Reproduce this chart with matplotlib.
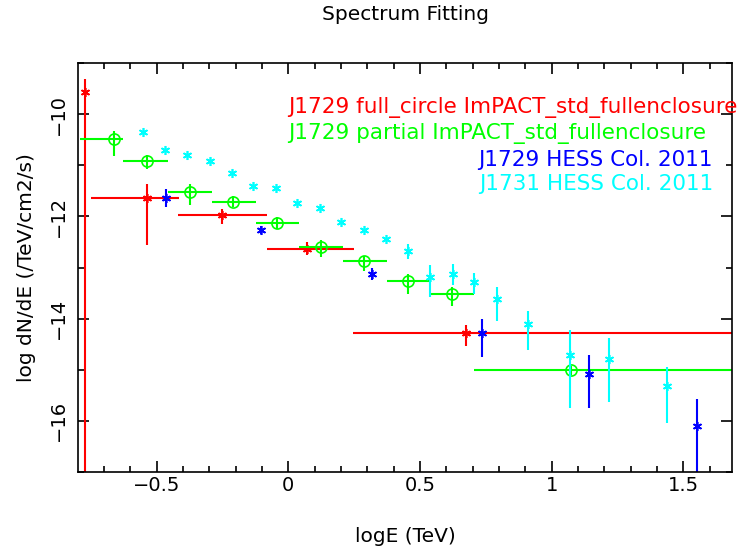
import numpy as np
import matplotlib.pyplot as plt

# J1729 full_circle ImPACT_std_fullenclosure (red)
red_x = [-0.772, -0.535, -0.253, 0.072, 0.674]
red_y = [-9.56, -11.63, -11.97, -12.63, -14.29]
red_xlo = [-0.772, -0.750, -0.418, -0.082, 0.247]
red_xhi = [-0.772, -0.415, -0.082, 0.251, 1.75]
red_ylo = [-18.0, -12.55, -12.15, -12.75, -14.54]
red_yhi = [-9.31, -11.37, -11.86, -12.51, -14.13]

# J1729 partial ImPACT_std_fullenclosure (green)
green_x = [-0.662, -0.538, -0.373, -0.211, -0.044, 0.123, 0.287, 0.453, 0.620, 1.072]
green_y = [-10.49, -10.92, -11.53, -11.71, -12.13, -12.59, -12.88, -13.26, -13.52, -15.01]
green_xlo = [-0.790, -0.627, -0.456, -0.291, -0.124, 0.042, 0.207, 0.374, 0.538, 0.706]
green_xhi = [-0.627, -0.456, -0.291, -0.124, 0.042, 0.209, 0.376, 0.538, 0.706, 1.75]
green_ylo = [-10.81, -11.07, -11.77, -11.82, -12.25, -12.80, -13.06, -13.52, -13.75, -15.10]
green_yhi = [-10.32, -10.80, -11.37, -11.59, -12.02, -12.46, -12.77, -13.12, -13.39, -14.92]

# J1729 HESS Col. 2011 (blue)
blue_x = [-0.464, -0.103, 0.317, 0.734, 1.142, 1.552]
blue_y = [-11.63, -12.26, -13.13, -14.29, -15.08, -16.11]
blue_ylo = [-11.81, -12.34, -13.24, -14.76, -15.75, -17.5]
blue_yhi = [-11.46, -12.18, -13.01, -14.01, -14.71, -15.57]

# J1731 HESS Col. 2011 (cyan)
cyan_x = [-0.553, -0.467, -0.385, -0.297, -0.214, -0.133, -0.048, 0.034, 0.120,
          0.201, 0.286, 0.371, 0.456, 0.538, 0.624, 0.706, 0.791, 0.910, 1.070,
          1.219, 1.437]
cyan_y = [-10.35, -10.69, -10.80, -10.92, -11.15, -11.41, -11.44, -11.74, -11.84,
          -12.10, -12.27, -12.44, -12.68, -13.19, -13.12, -13.29, -13.62, -14.11,
          -14.71, -14.80, -15.33]
cyan_ylo = [-10.35, -10.69, -10.80, -10.92, -11.15, -11.41, -11.44, -11.74, -11.84,
            -12.10, -12.27, -12.44, -12.83, -13.57, -13.34, -13.52, -14.05, -14.61,
            -15.75, -15.64, -16.05]
cyan_yhi = [-10.35, -10.69, -10.80, -10.92, -11.15, -11.41, -11.44, -11.74, -11.84,
            -12.10, -12.27, -12.44, -12.54, -12.96, -12.93, -13.10, -13.39, -13.85,
            -14.22, -14.38, -14.94]

labels = ["J1729 full_circle ImPACT_std_fullenclosure",
          "J1729 partial ImPACT_std_fullenclosure",
          "J1729 HESS Col. 2011",
          "J1731 HESS Col. 2011"]

W, H = 739, 552
fig = plt.figure(figsize=(W / 100, H / 100), dpi=100)
ax = fig.add_axes([77.7 / W, 1 - 471.7 / H, (732.3 - 77.7) / W, (471.7 - 63.3) / H])

star = (6, 2, 0)


def errs(c, lo, hi):
    c = np.asarray(c)
    return [c - np.asarray(lo), np.asarray(hi) - c]


ax.errorbar(red_x, red_y, xerr=errs(red_x, red_xlo, red_xhi), yerr=errs(red_y, red_ylo, red_yhi),
            fmt='none', ecolor='#ff0000', elinewidth=1.5, capsize=0)
ax.plot(red_x, red_y, ls='none', marker=star, color='#ff0000', ms=6.5, mew=1.2)

ax.errorbar(green_x, green_y, xerr=errs(green_x, green_xlo, green_xhi),
            yerr=errs(green_y, green_ylo, green_yhi),
            fmt='none', ecolor='#00ff00', elinewidth=1.5, capsize=0)
ax.plot(green_x, green_y, ls='none', marker='o', mfc='none', mec='#00ff00', ms=8, mew=1.2)

ax.errorbar(cyan_x, cyan_y, yerr=errs(cyan_y, cyan_ylo, cyan_yhi),
            fmt='none', ecolor='#00ffff', elinewidth=1.5, capsize=0)
ax.plot(cyan_x, cyan_y, ls='none', marker=star, color='#00ffff', ms=6.5, mew=1.2)

ax.errorbar(blue_x, blue_y, yerr=errs(blue_y, blue_ylo, blue_yhi),
            fmt='none', ecolor='#0000ff', elinewidth=1.5, capsize=0)
ax.plot(blue_x, blue_y, ls='none', marker=star, color='#0000ff', ms=6.5, mew=1.2)

ax.set_xlim(-0.8, 1.686)
ax.set_ylim(-17, -9)
ax.set_xticks([-0.5, 0, 0.5, 1, 1.5])
ax.set_xticklabels(['\u22120.5', '0', '0.5', '1', '1.5'])
ax.set_xticks(np.arange(-0.7, 1.7, 0.1), minor=True)
ax.set_yticks([-16, -14, -12, -10])
ax.set_yticklabels(['\u221216', '\u221214', '\u221212', '\u221210'])
ax.set_yticks(np.arange(-17, -8.9, 1.0), minor=True)

ax.tick_params(which='both', direction='in', top=True, right=True, width=1.2, labelsize=14)
ax.tick_params(which='major', length=8)
ax.tick_params(which='minor', length=4.3)
ax.tick_params(axis='x', pad=3)
ax.tick_params(axis='y', pad=7)
for lab in ax.get_yticklabels():
    lab.set_rotation(90)
    lab.set_va('center')
for s in ax.spines.values():
    s.set_linewidth(1.2)

fig.text(405 / W, 1 - 14 / H, "Spectrum Fitting", ha='center', va='center', fontsize=14.5)
fig.text(405 / W, 1 - 536 / H, "logE (TeV)", ha='center', va='center', fontsize=14.5)
fig.text(27 / W, 1 - 268 / H, "log dN/dE (/TeV/cm2/s)", ha='center', va='center',
         rotation=90, fontsize=14.5)

fig.text(288 / W, 1 - 108 / H, labels[0], color='#ff0000', ha='left', va='center', fontsize=15.5)
fig.text(288 / W, 1 - 134 / H, labels[1], color='#00ff00', ha='left', va='center', fontsize=15.5)
fig.text(713 / W, 1 - 160 / H, labels[2], color='#0000ff', ha='right', va='center', fontsize=15.5)
fig.text(713 / W, 1 - 184 / H, labels[3], color='#00ffff', ha='right', va='center', fontsize=15.5)

fig.savefig("out.png", dpi=100)
